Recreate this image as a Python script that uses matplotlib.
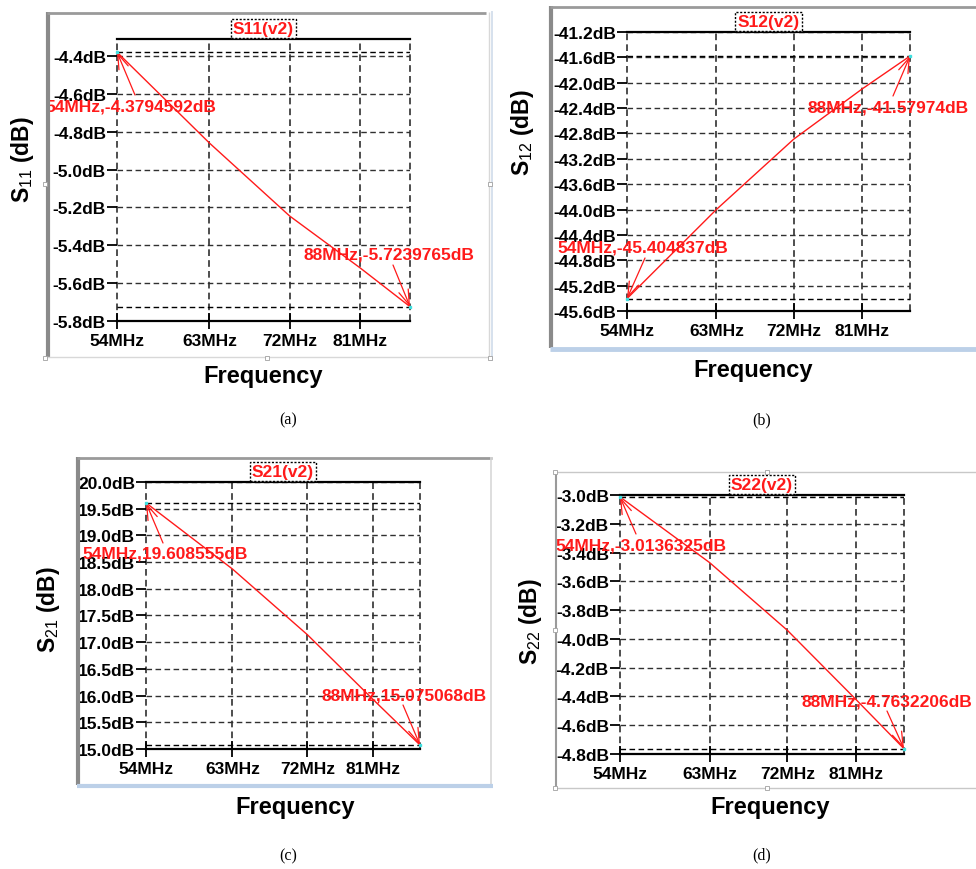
import matplotlib
matplotlib.use("Agg")
import matplotlib.pyplot as plt
from matplotlib.lines import Line2D
from matplotlib.patches import Rectangle
from matplotlib.ticker import NullLocator

plt.rcParams['font.family'] = ['Liberation Sans', 'DejaVu Sans']
plt.rcParams['mathtext.fontset'] = 'custom'
plt.rcParams['mathtext.rm'] = 'Liberation Sans'
plt.rcParams['mathtext.it'] = 'Liberation Sans'
plt.rcParams['mathtext.bf'] = 'Liberation Sans:bold'

# ---------------- data ----------------
freq = [54, 63, 72, 81, 88]
s11 = [-4.3794592, -4.86, -5.245, -5.52, -5.7239765]
s12 = [-45.404837, -44.00, -42.89, -42.10, -41.57974]
s21 = [19.608555, 18.37, 17.14, 15.92, 15.075068]
s22 = [-3.0136325, -3.47, -3.94, -4.42, -4.7632206]

xticks = [54, 63, 72, 81]
xticklabels = ["54MHz", "63MHz", "72MHz", "81MHz"]

yt_a = [-4.4, -4.6, -4.8, -5.0, -5.2, -5.4, -5.6, -5.8]
yl_a = ["-4.4dB", "-4.6dB", "-4.8dB", "-5.0dB", "-5.2dB", "-5.4dB", "-5.6dB", "-5.8dB"]
yt_b = [-41.2, -41.6, -42.0, -42.4, -42.8, -43.2, -43.6, -44.0, -44.4, -44.8, -45.2, -45.6]
yl_b = ["-41.2dB", "-41.6dB", "-42.0dB", "-42.4dB", "-42.8dB", "-43.2dB", "-43.6dB",
        "-44.0dB", "-44.4dB", "-44.8dB", "-45.2dB", "-45.6dB"]
yt_c = [20.0, 19.5, 19.0, 18.5, 18.0, 17.5, 17.0, 16.5, 16.0, 15.5, 15.0]
yl_c = ["20.0dB", "19.5dB", "19.0dB", "18.5dB", "18.0dB", "17.5dB", "17.0dB",
        "16.5dB", "16.0dB", "15.5dB", "15.0dB"]
yt_d = [-3.0, -3.2, -3.4, -3.6, -3.8, -4.0, -4.2, -4.4, -4.6, -4.8]
yl_d = ["-3.0dB", "-3.2dB", "-3.4dB", "-3.6dB", "-3.8dB", "-4.0dB", "-4.2dB",
        "-4.4dB", "-4.6dB", "-4.8dB"]

titles = ["S11(v2)", "S12(v2)", "S21(v2)", "S22(v2)"]
ylabels = ["S$_{11}$ (dB)", "S$_{12}$ (dB)", "S$_{21}$ (dB)", "S$_{22}$ (dB)"]
captions = ["(a)", "(b)", "(c)", "(d)"]
start_labels = ["54MHz,-4.3794592dB", "54MHz,-45.404837dB", "54MHz,19.608555dB", "54MHz,-3.0136325dB"]
end_labels = ["88MHz,-5.7239765dB", "88MHz,-41.57974dB", "88MHz,15.075068dB", "88MHz,-4.7632206dB"]

W, H = 976, 870
fig = plt.figure(figsize=(W / 100, H / 100), dpi=100)
fig.patch.set_facecolor('white')


def fx(x):
    return x / W


def fy(y):
    return 1 - y / H


def fline(xs, ys, color, lw, z=6):
    fig.add_artist(Line2D([fx(v) for v in xs], [fy(v) for v in ys],
                          transform=fig.transFigure, color=color, lw=lw,
                          zorder=z, solid_capstyle='butt'))


def handle(x, y):
    fig.add_artist(Rectangle((fx(x - 2), fy(y + 2)), 4 / W, 4 / H,
                             transform=fig.transFigure, fc='white',
                             ec='#a0a0a0', lw=0.6, zorder=7))


panels = [
    dict(box=(117, 40, 410, 322), ylim=(-5.8, -4.31), yt=yt_a, yl=yl_a, data=s11,
         ylab=(22, 160), freqlab=(263, 377), cap=(288, 420),
         t1=(45, 107), a1=(135, 96), t2=(303, 255), a2=(393, 266)),
    dict(box=(627, 33, 910, 312), ylim=(-45.6, -41.2), yt=yt_b, yl=yl_b, data=s12,
         ylab=(522, 133), freqlab=(753, 370), cap=(762, 420),
         t1=(557, 248), a1=(645, 259), t2=(808, 108), a2=(893, 97)),
    dict(box=(146, 483, 420, 750), ylim=(15.0, 20.0), yt=yt_c, yl=yl_c, data=s21,
         ylab=(49, 610), freqlab=(295, 808), cap=(288, 856),
         t1=(82, 554), a1=(163, 544), t2=(321, 696), a2=(403, 706)),
    dict(box=(620, 496, 904, 755), ylim=(-4.8, -3.0), yt=yt_d, yl=yl_d, data=s22,
         ylab=(530, 622), freqlab=(770, 808), cap=(762, 855),
         t1=(555, 546), a1=(636, 535), t2=(801, 702), a2=(887, 712)),
]

dash = (0, (4, 2.5))
gridc = '#303030'

for i, p in enumerate(panels):
    x0, y0, x1, y1 = p['box']
    ax = fig.add_axes([fx(x0), fy(y1), (x1 - x0) / W, (y1 - y0) / H])
    ax.set_facecolor('white')
    ax.set_xscale('log')
    ax.set_xlim(freq[0], freq[-1])
    ax.set_ylim(*p['ylim'])
    ax.set_xticks(xticks)
    ax.set_xticklabels(xticklabels)
    ax.xaxis.set_minor_locator(NullLocator())
    ax.set_yticks(p['yt'])
    ax.set_yticklabels(p['yl'])
    ax.yaxis.set_minor_locator(NullLocator())
    for lab in ax.get_xticklabels() + ax.get_yticklabels():
        lab.set_fontweight('bold')
        lab.set_fontsize(12.5)
    ax.tick_params(axis='y', direction='out', length=7, width=1.3, pad=1, colors='black')
    ax.tick_params(axis='x', direction='inout', length=11, width=1.3, pad=3, colors='black')
    for side in ('left', 'right'):
        ax.spines[side].set_visible(False)
    for side in ('top', 'bottom'):
        ax.spines[side].set_linewidth(1.6)
        ax.spines[side].set_color('black')
    # grid
    for yv in p['yt']:
        ax.axhline(yv, color=gridc, lw=1.0, ls=dash, zorder=1)
    for xv in xticks + [freq[-1]]:
        ax.axvline(xv, color=gridc, lw=1.2, ls=dash, zorder=1, clip_on=False)
    # marker lines at the extreme values
    ax.axhline(p['data'][0], color='black', lw=1.0, ls=dash, zorder=1.5)
    ax.axhline(p['data'][-1], color='black', lw=1.0, ls=dash, zorder=1.5)
    # curve
    ax.plot(freq, p['data'], color='#ff1a1a', lw=1.0, zorder=3, clip_on=False)
    ax.plot([freq[0], freq[-1]], [p['data'][0], p['data'][-1]], ls='none',
            marker='s', ms=1.5, color='#40e0e0', zorder=4, clip_on=False)
    # annotations
    tc = '#ff1a1a'
    fig.text(fx(p['t1'][0]), fy(p['t1'][1]), start_labels[i], color=tc,
             fontsize=12.5, fontweight='bold', ha='left', va='center', zorder=4)
    fig.text(fx(p['t2'][0]), fy(p['t2'][1]), end_labels[i], color=tc,
             fontsize=12.5, fontweight='bold', ha='left', va='center', zorder=4)
    arrow = dict(arrowstyle='->,head_length=0.9,head_width=0.3', color=tc, lw=0.9,
                 shrinkA=0, shrinkB=0, mutation_scale=12)
    ax.annotate('', xy=(freq[0], p['data'][0]), xytext=(p['a1'][0], H - p['a1'][1]),
                textcoords='figure pixels', arrowprops=arrow, annotation_clip=False)
    ax.annotate('', xy=(freq[-1], p['data'][-1]), xytext=(p['a2'][0], H - p['a2'][1]),
                textcoords='figure pixels', arrowprops=arrow, annotation_clip=False)
    # title with dotted box
    fig.text(fx((x0 + x1) / 2), fy(y0 - 3), titles[i], color=tc, fontsize=12.5,
             fontweight='bold', ha='center', va='bottom', zorder=4,
             bbox=dict(boxstyle='square,pad=0.12', fc='white', ec='black',
                       ls=(0, (1.5, 1.2)), lw=1.0))
    # axis labels and caption
    fig.text(fx(p['ylab'][0]), fy(p['ylab'][1]), ylabels[i], rotation=90,
             fontsize=16.5, fontweight='bold', ha='center', va='center')
    fig.text(fx(p['freqlab'][0]), fy(p['freqlab'][1]), "Frequency",
             fontsize=17, fontweight='bold', ha='center', va='center')
    fig.text(fx(p['cap'][0]), fy(p['cap'][1]), captions[i], fontsize=11.5,
             family='Liberation Serif', ha='center', va='center')

# ---------------- screenshot frames ----------------
# (a)
fline([48, 48], [13, 358], '#8a8a8a', 3)
fline([47, 486], [14, 14], '#9a9a9a', 2)
fline([489, 489], [13, 358], '#d8d8d8', 1)
fline([45, 490], [358, 358], '#d8d8d8', 1)
for hx, hy in [(45, 185), (490, 185), (267, 359), (45, 359), (490, 359)]:
    handle(hx, hy)
# (b)
fline([551, 551], [7, 349], '#8a8a8a', 3)
fline([550, 976], [8, 8], '#9a9a9a', 2)
fline([550, 976], [350, 350], '#bcd0e8', 3.5)
fline([492, 492], [12, 362], '#d0dcea', 1.2)
# (c)
fline([78, 78], [458, 786], '#8a8a8a', 3)
fline([77, 492], [459, 459], '#9a9a9a', 2)
fline([491, 491], [458, 786], '#d8d8d8', 1.2)
fline([77, 493], [787, 787], '#bcd0e8', 3)
# (d)
fline([556, 556], [473, 789], '#9a9a9a', 1.5)
fline([555, 976], [473, 473], '#c8c8c8', 1)
fline([555, 976], [789, 789], '#c8c8c8', 1)
for hx, hy in [(555, 473), (767, 473), (555, 631), (555, 789), (767, 789)]:
    handle(hx, hy)

fig.savefig("out.png", dpi=100, facecolor='white')
